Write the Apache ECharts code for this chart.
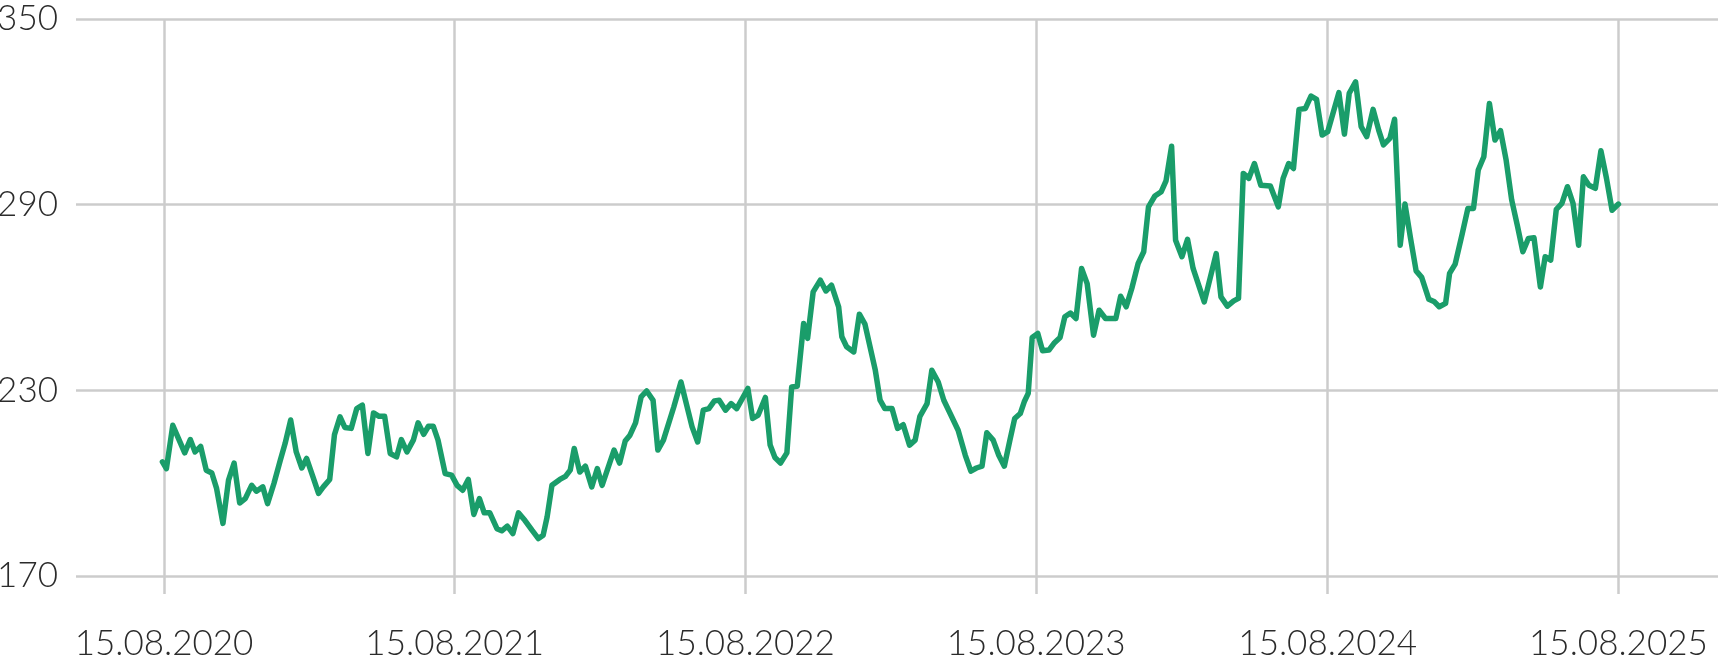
<!DOCTYPE html>
<html><head><meta charset="utf-8">
<script src="https://cdn.jsdelivr.net/npm/echarts@6/dist/echarts.min.js"></script>
<style>html,body{margin:0;padding:0;background:#fff}#c{width:1718px;height:658px}</style>
</head><body><div id="c"></div>
<script>
const dates = [
'2020-08-13','2020-08-18','2020-08-26','2020-09-10','2020-09-17','2020-09-23','2020-09-30','2020-10-07','2020-10-14','2020-10-20',
'2020-10-28','2020-11-04','2020-11-11','2020-11-18','2020-11-25','2020-12-03','2020-12-09','2020-12-17','2020-12-23','2020-12-31',
'2021-01-08','2021-01-14','2021-01-21','2021-01-28','2021-02-04','2021-02-10','2021-02-18','2021-02-25','2021-03-03','2021-03-11',
'2021-03-17','2021-03-24','2021-03-30','2021-04-07','2021-04-14','2021-04-21','2021-04-28','2021-05-05','2021-05-12','2021-05-19',
'2021-05-26','2021-06-03','2021-06-09','2021-06-16','2021-06-24','2021-06-30','2021-07-07','2021-07-13','2021-07-19','2021-07-25',
'2021-08-03','2021-08-11','2021-08-18','2021-08-25','2021-09-01','2021-09-08','2021-09-15','2021-09-21','2021-09-28','2021-10-07',
'2021-10-13','2021-10-20','2021-10-27','2021-11-03','2021-11-11','2021-11-20','2021-11-28','2021-12-04','2021-12-09','2021-12-15',
'2021-12-25','2022-01-01','2022-01-07','2022-01-12','2022-01-19','2022-01-26','2022-02-03','2022-02-10','2022-02-16','2022-03-03',
'2022-03-10','2022-03-17','2022-03-23','2022-03-30','2022-04-06','2022-04-13','2022-04-21','2022-04-27','2022-05-04','2022-05-17',
'2022-05-26','2022-06-09','2022-06-16','2022-06-23','2022-06-30','2022-07-07','2022-07-13','2022-07-21','2022-07-28','2022-08-04',
'2022-08-11','2022-08-18','2022-08-24','2022-08-31','2022-09-09','2022-09-15','2022-09-21','2022-09-28','2022-10-06','2022-10-12',
'2022-10-19','2022-10-27','2022-11-01','2022-11-08','2022-11-17','2022-11-24','2022-12-01','2022-12-10','2022-12-14','2022-12-20',
'2022-12-29','2023-01-05','2023-01-12','2023-01-25','2023-01-31','2023-02-06','2023-02-15','2023-02-22','2023-03-01','2023-03-09',
'2023-03-16','2023-03-22','2023-03-31','2023-04-06','2023-04-14','2023-04-21','2023-04-29','2023-05-09','2023-05-18','2023-05-25',
'2023-06-01','2023-06-08','2023-06-14','2023-06-22','2023-06-29','2023-07-06','2023-07-13','2023-07-19','2023-07-26','2023-07-31',
'2023-08-05','2023-08-10','2023-08-17','2023-08-23','2023-08-31','2023-09-07','2023-09-14','2023-09-20','2023-09-27','2023-10-04',
'2023-10-11','2023-10-18','2023-10-26','2023-11-02','2023-11-10','2023-11-23','2023-11-29','2023-12-06','2023-12-13','2023-12-21',
'2023-12-28','2024-01-03','2024-01-11','2024-01-19','2024-01-25','2024-02-01','2024-02-06','2024-02-14','2024-02-21','2024-02-28',
'2024-03-13','2024-03-28','2024-04-03','2024-04-11','2024-04-19','2024-04-25','2024-05-01','2024-05-08','2024-05-15','2024-05-23',
'2024-06-04','2024-06-14','2024-06-20','2024-06-27','2024-07-03','2024-07-10','2024-07-18','2024-07-25','2024-08-01','2024-08-08',
'2024-08-15','2024-08-29','2024-09-05','2024-09-11','2024-09-19','2024-09-26','2024-10-03','2024-10-11','2024-10-18','2024-10-24',
'2024-11-01','2024-11-07','2024-11-14','2024-11-20','2024-11-27','2024-12-04','2024-12-11','2024-12-20','2024-12-27','2025-01-02',
'2025-01-10','2025-01-15','2025-01-22','2025-01-31','2025-02-07','2025-02-14','2025-02-20','2025-02-27','2025-03-06','2025-03-13',
'2025-03-20','2025-03-27','2025-04-03','2025-04-10','2025-04-17','2025-04-24','2025-05-01','2025-05-09','2025-05-15','2025-05-22',
'2025-05-29','2025-06-05','2025-06-12','2025-06-19','2025-06-26','2025-07-02','2025-07-09','2025-07-17','2025-07-24','2025-07-31',
'2025-08-07','2025-08-15'
];
const values = [
206.9,204.7,218.7,209.8,214.1,210.1,211.9,204.2,203.3,198.3,
187.0,201.0,206.5,193.6,195.0,199.3,197.4,198.8,193.4,199.9,
207.4,212.8,220.4,210.1,204.9,208.0,202.0,196.7,198.8,201.2,
215.7,221.4,218.0,217.7,224.1,225.2,209.6,222.7,221.6,221.6,
209.6,208.5,214.1,210.1,213.9,219.5,215.8,218.4,218.4,213.9,
203.1,202.6,199.3,197.7,201.2,189.9,195.0,190.4,190.4,185.3,
184.6,186.1,183.7,190.4,188.0,184.8,182.1,183.2,189.1,199.3,
201.2,202.2,204.2,211.2,203.6,205.5,198.8,204.7,199.3,210.7,
206.5,213.6,215.5,219.5,227.9,229.8,226.8,210.7,213.9,224.6,
232.7,218.2,213.3,223.6,224.1,226.6,226.8,223.6,225.7,224.1,
227.3,230.6,220.9,222.0,227.7,212.3,208.3,206.5,209.8,231.1,
231.3,251.6,246.8,261.8,265.6,262.1,264.0,257.0,247.3,244.1,
242.4,254.6,251.4,236.5,226.8,224.1,224.1,217.7,218.9,212.3,
213.9,221.6,225.7,236.5,232.7,226.8,222.5,217.1,209.0,203.9,
204.9,205.5,216.3,213.9,209.0,205.5,213.9,220.9,222.5,226.3,
229.0,247.1,248.4,242.8,243.0,245.4,247.1,253.8,255.0,253.2,
269.4,264.5,247.8,255.9,253.2,253.2,260.4,257.0,262.9,271.0,
274.8,289.3,292.8,294.2,297.7,308.9,278.5,273.2,278.8,269.4,
258.6,274.2,260.2,257.2,258.9,259.7,300.1,298.5,303.3,296.3,
296.0,289.3,298.5,303.3,301.7,320.8,321.1,325.1,324.0,312.5,
313.6,326.2,312.8,326.0,329.7,315.2,312.0,320.8,314.1,309.3,
311.4,317.6,276.9,290.2,279.1,268.6,266.5,259.4,258.6,257.0,
258.1,267.8,270.8,280.7,288.8,288.8,301.2,305.5,322.7,310.9,
313.9,304.4,291.5,283.4,274.8,279.1,279.3,263.4,273.2,272.1,
288.5,290.4,295.8,290.4,276.9,299.0,296.3,295.3,307.4,298.5,
288.2,290.2
];
const tickDates = ['2020-08-15','2021-08-15','2022-08-15','2023-08-15','2024-08-15','2025-08-15'];
const tickLabels = ['15.08.2020','15.08.2021','15.08.2022','15.08.2023','15.08.2024','15.08.2025'];
const yMin = 170, yMax = 350, yStep = 60;
const xMin = '2020-04-26T12:00:00Z', xMax = '2025-12-18T00:00:00Z';

const toMs = s => Date.parse(s.length === 10 ? s + 'T00:00:00Z' : s);
const tickMs = tickDates.map(toMs);
const grid = '#cccccc';
const font = 'Lato, "Open Sans", sans-serif';

const chart = echarts.init(document.getElementById('c'), null, {renderer: 'canvas'});
chart.setOption({
  animation: false,
  backgroundColor: '#ffffff',
  grid: {left: 76, right: 0, top: 19, bottom: 82, containLabel: false, outerBoundsMode: 'none'},
  xAxis: {
    type: 'value',
    min: toMs(xMin), max: toMs(xMax),
    axisLine: {show: false},
    axisTick: {show: true, customValues: tickMs, length: 18, lineStyle: {color: grid, width: 2.5}},
    splitLine: {show: true, lineStyle: {color: grid, width: 2.5}},
    axisLabel: {
      customValues: tickMs, margin: 50, fontSize: 35, color: '#2b2b2b', fontFamily: font, fontWeight: 300,
      showMinLabel: true, showMaxLabel: true, hideOverlap: false,
      formatter: v => { let best = 0; tickMs.forEach((t, i) => { if (Math.abs(t - v) < Math.abs(tickMs[best] - v)) best = i; }); return tickLabels[best]; }
    }
  },
  yAxis: {
    type: 'value', min: yMin, max: yMax, interval: yStep,
    axisLine: {show: false}, axisTick: {show: false},
    splitLine: {show: true, lineStyle: {color: grid, width: 2.5}},
    axisLabel: {margin: 18, fontSize: 35, color: '#2b2b2b', fontFamily: font, fontWeight: 300}
  },
  series: [{
    type: 'line', showSymbol: false, symbol: 'none',
    data: dates.map((d, i) => [toMs(d), values[i]]),
    lineStyle: {color: '#1a9d6a', width: 5.5, join: 'round', cap: 'round'},
    itemStyle: {color: '#1a9d6a'}
  }]
});
</script></body></html>
